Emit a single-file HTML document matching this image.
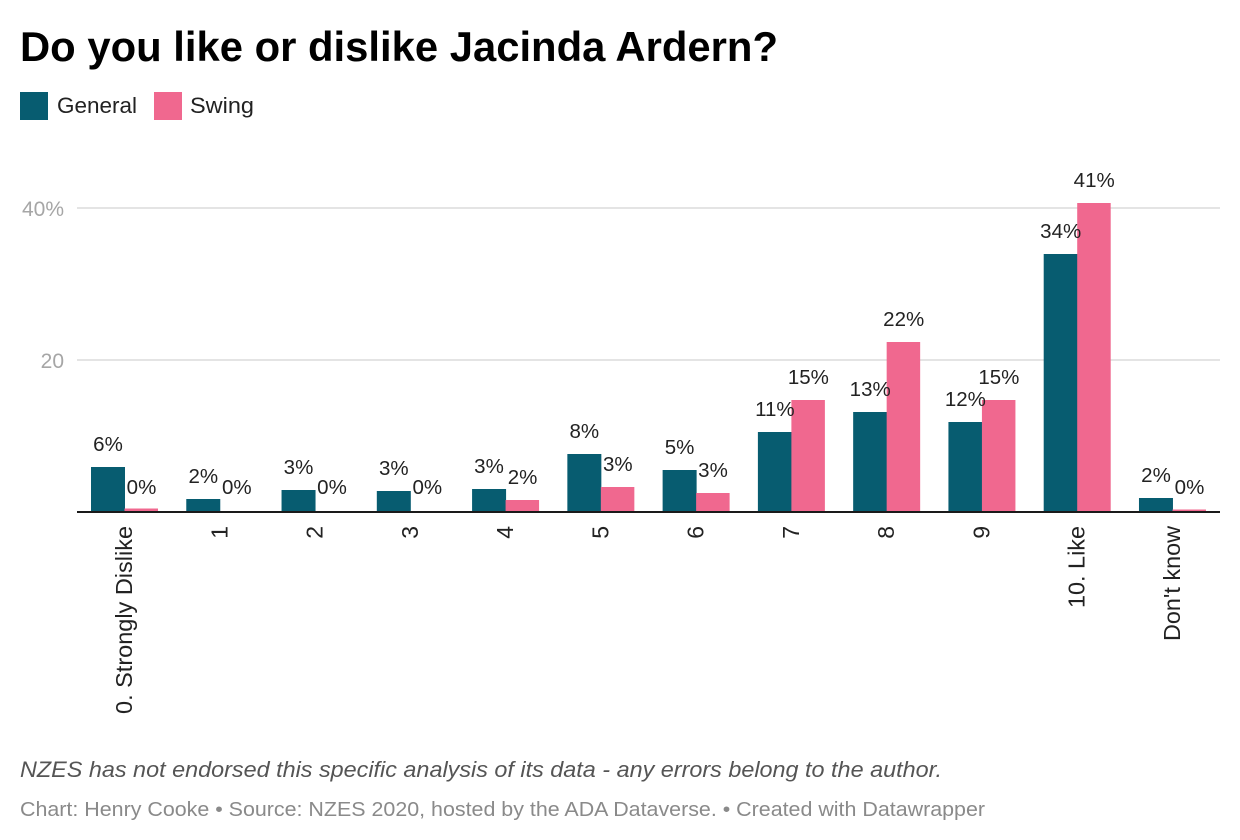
<!DOCTYPE html>
<html>
<head>
<meta charset="utf-8">
<style>
  html, body { margin: 0; padding: 0; background: #fff; }
  svg { display: block; }
  text { font-family: "Liberation Sans", Arial, sans-serif; }
</style>
</head>
<body>
<svg width="1240" height="840" viewBox="0 0 1240 840" xmlns="http://www.w3.org/2000/svg">
  <rect width="1240" height="840" fill="#fff"/>
  <!-- Title -->
  <text x="20" y="61" font-size="42" font-weight="bold" fill="#000" textLength="758" lengthAdjust="spacingAndGlyphs">Do you like or dislike Jacinda Ardern?</text>

  <!-- Legend -->
  <rect x="20" y="92" width="28" height="28" fill="#075c70"/>
  <text x="57" y="113" font-size="22.5" fill="#222" textLength="80" lengthAdjust="spacingAndGlyphs">General</text>
  <rect x="154" y="92" width="28" height="28" fill="#f0688f"/>
  <text x="190" y="113" font-size="22.5" fill="#222" textLength="64" lengthAdjust="spacingAndGlyphs">Swing</text>

  <!-- Gridlines -->
  <line x1="77" y1="208" x2="1220" y2="208" stroke="#e4e4e4" stroke-width="2"/>
  <line x1="77" y1="360" x2="1220" y2="360" stroke="#e4e4e4" stroke-width="2"/>
  <text x="64" y="216" font-size="21" fill="#a6a6a6" text-anchor="end">40%</text>
  <text x="64" y="368" font-size="21" fill="#a6a6a6" text-anchor="end">20</text>

  <!-- Bars: General -->
  <g fill="#075c70">
    <rect x="91" y="467" width="34" height="44"/>
    <rect x="186.27" y="499" width="34" height="12"/>
    <rect x="281.54" y="490" width="34" height="21"/>
    <rect x="376.81" y="491" width="34" height="20"/>
    <rect x="472.08" y="489" width="34" height="22"/>
    <rect x="567.35" y="454" width="34" height="57"/>
    <rect x="662.62" y="470" width="34" height="41"/>
    <rect x="757.89" y="432" width="34" height="79"/>
    <rect x="853.16" y="412" width="34" height="99"/>
    <rect x="948.43" y="422" width="34" height="89"/>
    <rect x="1043.7" y="254" width="34" height="257"/>
    <rect x="1138.97" y="498" width="34" height="13"/>
  </g>
  <!-- Bars: Swing -->
  <g fill="#f0688f">
    <rect x="124.5" y="508.5" width="33.5" height="2.5"/>
    <rect x="505.58" y="500" width="33.5" height="11"/>
    <rect x="600.85" y="487" width="33.5" height="24"/>
    <rect x="696.12" y="493" width="33.5" height="18"/>
    <rect x="791.39" y="400" width="33.5" height="111"/>
    <rect x="886.66" y="342" width="33.5" height="169"/>
    <rect x="981.93" y="400" width="33.5" height="111"/>
    <rect x="1077.2" y="203" width="33.5" height="308"/>
    <rect x="1172.47" y="509.5" width="33.5" height="1.5"/>
  </g>

  <!-- Baseline -->
  <line x1="77" y1="512" x2="1220" y2="512" stroke="#1a1a1a" stroke-width="2"/>

  <!-- Value labels -->
  <g font-size="20.5" fill="#222" text-anchor="middle">
    <text x="108" y="451">6%</text>
    <text x="141.5" y="494">0%</text>
    <text x="203.3" y="483">2%</text>
    <text x="236.8" y="494">0%</text>
    <text x="298.5" y="474">3%</text>
    <text x="332" y="494">0%</text>
    <text x="393.8" y="475">3%</text>
    <text x="427.3" y="494">0%</text>
    <text x="489" y="473">3%</text>
    <text x="522.6" y="484">2%</text>
    <text x="584.3" y="438">8%</text>
    <text x="617.8" y="471">3%</text>
    <text x="679.6" y="454">5%</text>
    <text x="713" y="477">3%</text>
    <text x="774.9" y="416">11%</text>
    <text x="808.4" y="384">15%</text>
    <text x="870.2" y="396">13%</text>
    <text x="903.7" y="326">22%</text>
    <text x="965.4" y="406">12%</text>
    <text x="998.9" y="384">15%</text>
    <text x="1060.7" y="238">34%</text>
    <text x="1094.2" y="187">41%</text>
    <text x="1156" y="482">2%</text>
    <text x="1189.5" y="494">0%</text>
  </g>

  <!-- X-axis labels (rotated) -->
  <g font-size="23" fill="#222" text-anchor="end">
    <text transform="translate(132,526) rotate(-90)" textLength="188" lengthAdjust="spacingAndGlyphs">0. Strongly Dislike</text>
    <text transform="translate(227.3,526) rotate(-90)">1</text>
    <text transform="translate(322.5,526) rotate(-90)">2</text>
    <text transform="translate(417.8,526) rotate(-90)">3</text>
    <text transform="translate(513.1,526) rotate(-90)">4</text>
    <text transform="translate(608.4,526) rotate(-90)">5</text>
    <text transform="translate(703.6,526) rotate(-90)">6</text>
    <text transform="translate(798.9,526) rotate(-90)">7</text>
    <text transform="translate(894.2,526) rotate(-90)">8</text>
    <text transform="translate(989.4,526) rotate(-90)">9</text>
    <text transform="translate(1084.7,526) rotate(-90)" textLength="82" lengthAdjust="spacingAndGlyphs">10. Like</text>
    <text transform="translate(1180,526) rotate(-90)" textLength="115" lengthAdjust="spacingAndGlyphs">Don't know</text>
  </g>

  <!-- Footer -->
  <text x="20" y="777" font-size="22" font-style="italic" fill="#555" textLength="922" lengthAdjust="spacingAndGlyphs">NZES has not endorsed this specific analysis of its data - any errors belong to the author.</text>
  <text x="20" y="816" font-size="20.5" fill="#8a8a8a" textLength="965" lengthAdjust="spacingAndGlyphs">Chart: Henry Cooke • Source: NZES 2020, hosted by the ADA Dataverse. • Created with Datawrapper</text>
</svg>
</body>
</html>
